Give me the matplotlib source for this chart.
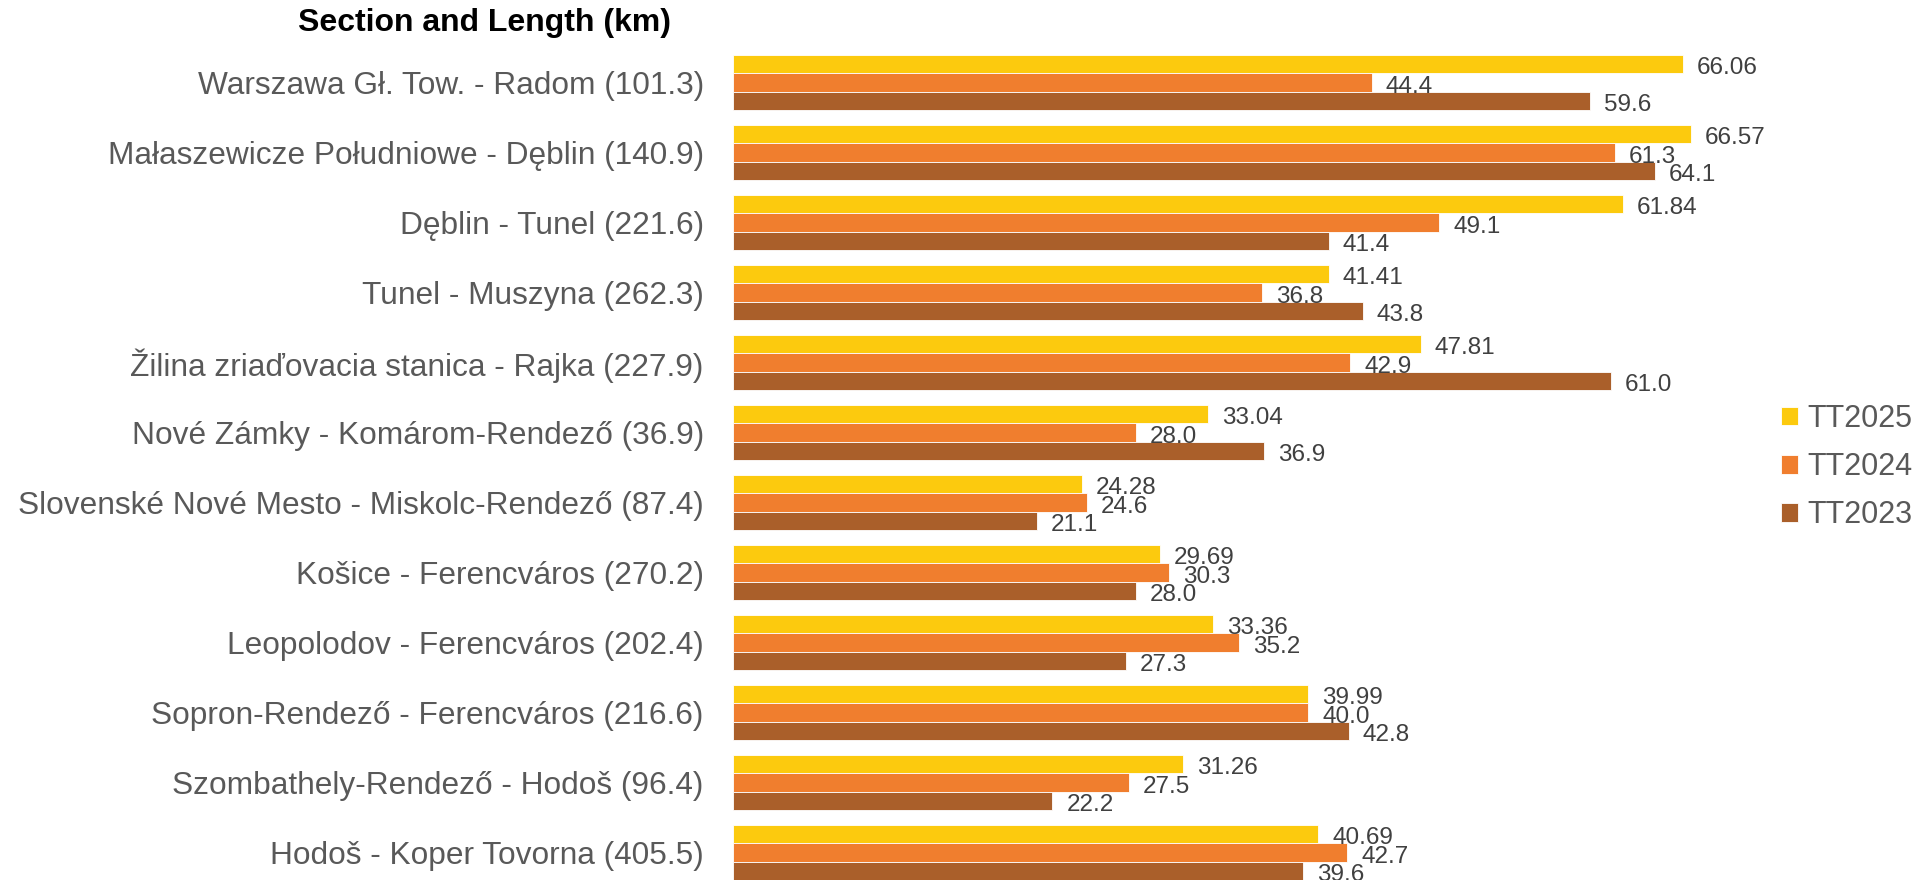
import matplotlib
matplotlib.use("Agg")
import matplotlib.pyplot as plt
import numpy as np

plt.rcParams['font.family'] = ['Liberation Sans', 'DejaVu Sans']

sections = [
    "Warszawa Gł. Tow. - Radom (101.3)",
    "Małaszewicze Południowe - Dęblin (140.9)",
    "Dęblin - Tunel (221.6)",
    "Tunel - Muszyna (262.3)",
    "Žilina zriaďovacia stanica - Rajka (227.9)",
    "Nové Zámky - Komárom-Rendező (36.9)",
    "Slovenské Nové Mesto - Miskolc-Rendező (87.4)",
    "Košice - Ferencváros (270.2)",
    "Leopolodov - Ferencváros (202.4)",
    "Sopron-Rendező - Ferencváros (216.6)",
    "Szombathely-Rendező - Hodoš (96.4)",
    "Hodoš - Koper Tovorna (405.5)",
]
tt2025 = [66.06, 66.57, 61.84, 41.41, 47.81, 33.04, 24.28, 29.69, 33.36, 39.99, 31.26, 40.69]
tt2024 = [44.4, 61.3, 49.1, 36.8, 42.9, 28.0, 24.6, 30.3, 35.2, 40.0, 27.5, 42.7]
tt2023 = [59.6, 64.1, 41.4, 43.8, 61.0, 36.9, 21.1, 28.0, 27.3, 42.8, 22.2, 39.6]
series_names = ["TT2025", "TT2024", "TT2023"]
colors = ["#FCCA0E", "#F07E2E", "#AA5F2A"]
fmts = ["{:.2f}", "{:.1f}", "{:.1f}"]

W, H = 1921, 880
fig = plt.figure(figsize=(W / 100, H / 100), dpi=100)
ax_left, ax_right = 733, 1740
ax_top, ax_bottom = 47.5, 880
ax = fig.add_axes([ax_left / W, 1 - ax_bottom / H, (ax_right - ax_left) / W, (ax_bottom - ax_top) / H])

n = len(sections)
y = np.arange(n)
bh = 0.262
offsets = [-bh, 0, bh]
for vals, name, col, off, fmt in zip([tt2025, tt2024, tt2023], series_names, colors, offsets, fmts):
    bars = ax.barh(y + off, vals, height=bh, color=col, edgecolor='white', linewidth=0.6, label=name)
    for b, v in zip(bars, vals):
        ax.annotate(fmt.format(v), (b.get_width(), b.get_y() + b.get_height() / 2),
                    xytext=(10, -3), textcoords='offset points', ha='left', va='center',
                    fontsize=17.5, color='#404040')

ax.set_xlim(0, 70)
ax.set_ylim(n - 1 + 0.393, -0.5)
ax.set_yticks(y)
ax.set_yticklabels(sections, fontsize=22.8, color='#595959')
ax.tick_params(axis='y', length=0, pad=21)
ax.set_xticks([])
for s in ax.spines.values():
    s.set_visible(False)

fig.text(671 / W, 1 - 23 / H, "Section and Length (km)", ha='right', va='center',
         fontsize=23, fontweight='bold', color='black')

handles, labels = ax.get_legend_handles_labels()
leg = fig.legend(handles, labels, loc='center left', bbox_to_anchor=(1781 / W, 1 - 467 / H),
                 frameon=False, fontsize=22, handlelength=0.56, handleheight=0.56,
                 handletextpad=0.3, labelspacing=0.6, borderpad=0, borderaxespad=0)
for t in leg.get_texts():
    t.set_color('#595959')

fig.savefig("out.png", dpi=100)
